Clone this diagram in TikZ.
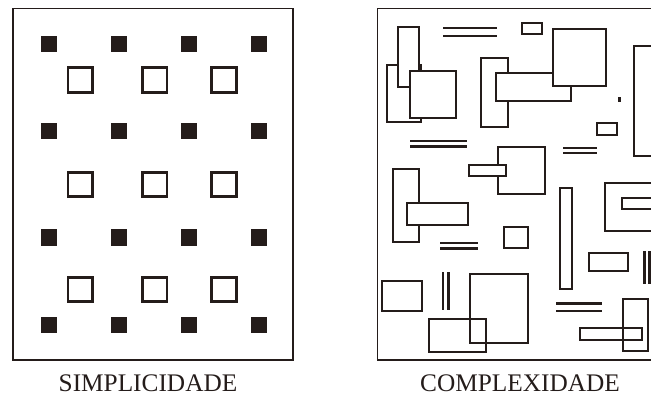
\documentclass[tikz,border=0pt]{standalone}
\usepackage{fontspec}
\setmainfont{Liberation Serif}
\definecolor{ink}{HTML}{241C1A}
\begin{document}
\begin{tikzpicture}[x=0.025cm,y=-0.025cm,
  frame/.style={draw=ink,line width=1.3pt},
  box/.style={draw=ink,line width=2.1pt,fill=white},
  openbox/.style={draw=ink,line width=2.1pt},
  bar/.style={draw=ink,line width=1.9pt},
  caption/.style={font=\fontsize{18}{21}\selectfont,text=ink}]
\useasboundingbox (0,0) rectangle (651,396);
\clip (0,0) rectangle (651,396);
% Left: regular grid of squares
\begin{scope}
\draw[frame] (13,8.5) rectangle (293,360);
\foreach \y in {44,131,237.5,325} {
  \foreach \x in {49,119,189,259} {
    \fill[ink] (\x-8,\y-8.3) rectangle (\x+8,\y+8.3);
  }
}
\foreach \y in {80,184.5,289.5} {
  \foreach \x in {80.3,154.7,224.2} {
    \draw[openbox] (\x-12.3,\y-12.3) rectangle (\x+12.3,\y+12.3);
  }
}
\node[caption] (simple) at (148,383.5) {SIMPLICIDADE};
\end{scope}
% Right: scattered, overlapping boxes
\begin{scope}
\draw[frame] (377.5,8.5) rectangle (700,360);
% stacked boxes, later ones cover earlier ones
\foreach \xa/\ya/\xb/\yb in {387/65/421/122, 398/27/419/87, 410/71/456/118,
    481/58/508/127, 496/73/571/101, 553/29/606/86,
    498/147/545/194, 469/165/506/176,
    393/169/419/242, 407/203/468/225,
    522/23/542/34, 597/123/617/135, 634/46/700/156,
    504/227/528/248, 560/188/572/289, 589/253/628/271,
    382/281/422/311, 605/183/700/231, 622/198/700/209} {
  \draw[box] (\xa,\ya) rectangle (\xb,\yb);
}
% boxes that show through each other
\foreach \xa/\ya/\xb/\yb in {470/274/528/343, 429/319/486/352,
    623/299/648/351, 580/328/642/340} {
  \draw[openbox] (\xa,\ya) rectangle (\xb,\yb);
}
% double strokes
\foreach \xa/\xb/\ya/\yb in {443/497/28/36, 410/467/141/146.5, 563/597/148/153,
    440/478/243/248.5, 556/602/303.5/311} {
  \draw[bar] (\xa,\ya) -- (\xb,\ya);
  \draw[bar] (\xa,\yb) -- (\xb,\yb);
}
\foreach \x/\ya/\yb/\xb in {443/272/310/448.5, 644.5/251/284/649.5} {
  \draw[bar] (\x,\ya) -- (\x,\yb);
  \draw[bar] (\xb,\ya) -- (\xb,\yb);
}
\fill[ink] (617.8,97) rectangle (620.5,101.5);
\node[caption] (complex) at (520,383.5) {COMPLEXIDADE};
\end{scope}
\end{tikzpicture}
\end{document}
